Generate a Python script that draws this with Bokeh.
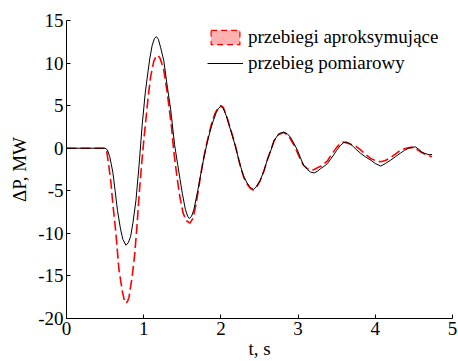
from bokeh.plotting import figure
from bokeh.models import FixedTicker, Legend, LegendItem, Range1d
from bokeh.embed import file_html
from bokeh.resources import INLINE

# ---- data ----
t_black = [0.0, 0.5, 0.53, 0.56, 0.6, 0.63, 0.66, 0.7, 0.73, 0.77, 0.8, 0.83, 0.86, 0.9,
           0.94, 0.98, 1.02, 1.05, 1.08, 1.11, 1.14, 1.165, 1.19, 1.22, 1.26, 1.3, 1.35,
           1.4, 1.44, 1.47, 1.5, 1.54, 1.57, 1.59, 1.62, 1.65, 1.7, 1.74, 1.78, 1.82, 1.86,
           1.9, 1.94, 1.97, 2.0, 2.03, 2.07, 2.1, 2.15, 2.19, 2.23, 2.26, 2.3, 2.34, 2.38,
           2.42, 2.46, 2.51, 2.56, 2.6, 2.65, 2.69, 2.75, 2.815, 2.86, 2.9, 2.95, 2.99,
           3.03, 3.07, 3.12, 3.16, 3.21, 3.25, 3.29, 3.34, 3.38, 3.42, 3.46, 3.5, 3.55,
           3.59, 3.62, 3.67, 3.72, 3.76, 3.81, 3.87, 3.94, 4.0, 4.07, 4.13, 4.2, 4.26,
           4.33, 4.38, 4.43, 4.48, 4.52, 4.56, 4.6, 4.64, 4.67, 4.7, 4.735]
p_black = [0.0, 0.0, -0.2, -1.0, -2.8, -5.0, -7.3, -9.5, -10.7, -11.4, -11.1, -10.4, -8.8, -6.1,
           -2.0, 2.7, 6.5, 8.6, 10.6, 12.1, 12.9, 13.1, 12.8, 11.8, 10.3, 7.6, 4.5,
           0.4, -1.9, -3.6, -5.3, -7.2, -8.0, -8.25, -8.0, -7.2, -5.0, -3.0, -1.1, 0.55, 2.0,
           3.2, 4.2, 4.7, 4.9, 4.7, 3.8, 2.9, 1.4, 0.15, -1.3, -2.3, -3.4, -4.1, -4.6,
           -4.85, -4.5, -3.75, -2.6, -1.4, -0.2, 0.9, 1.7, 1.9, 1.7, 1.3, 0.5, -0.2,
           -1.1, -2.0, -2.5, -2.8, -2.9, -2.7, -2.4, -2.1, -1.8, -1.3, -0.8, -0.25, 0.35,
           0.65, 0.74, 0.55, 0.15, -0.2, -0.6, -1.0, -1.4, -1.8, -2.1, -1.8, -1.4, -1.0,
           -0.55, -0.25, 0.0, 0.12, 0.15, -0.1, -0.43, -0.6, -0.7, -0.75, -0.74]

t_red = [0.0, 0.5, 0.52, 0.55, 0.575, 0.6, 0.64, 0.68, 0.725, 0.75, 0.77, 0.79, 0.81, 0.85,
         0.88, 0.91, 0.94, 0.97, 1.0, 1.03, 1.06, 1.09, 1.13, 1.16, 1.185, 1.21, 1.24, 1.26,
         1.3, 1.33, 1.36, 1.39, 1.43, 1.47, 1.51, 1.55, 1.6, 1.64, 1.68, 1.72, 1.76, 1.8,
         1.84, 1.88, 1.92, 1.96, 2.0, 2.03, 2.07, 2.1, 2.15, 2.19, 2.23, 2.26, 2.3, 2.34,
         2.38, 2.42, 2.46, 2.51, 2.56, 2.6, 2.65, 2.69, 2.75, 2.81, 2.86, 2.9, 2.95, 2.99,
         3.03, 3.07, 3.12, 3.17, 3.21, 3.25, 3.3, 3.34, 3.38, 3.42, 3.46, 3.5, 3.54, 3.58,
         3.62, 3.67, 3.72, 3.76, 3.81, 3.87, 3.94, 4.0, 4.07, 4.13, 4.2, 4.26, 4.31, 4.35,
         4.4, 4.46, 4.5, 4.55, 4.6, 4.64, 4.68, 4.735]
p_red = [0.0, 0.0, -0.3, -2.2, -4.0, -6.5, -10.0, -14.3, -16.9, -17.9, -18.2, -18.0, -17.5, -15.1,
         -12.8, -9.5, -5.6, -2.2, 0.8, 3.5, 6.2, 8.4, 10.2, 10.8, 10.9, 10.6, 9.8, 9.2,
         6.8, 4.7, 2.5, -0.4, -3.3, -5.8, -7.6, -8.5, -8.8, -8.2, -6.5, -4.2, -2.0, -0.1,
         1.5, 2.9, 4.0, 4.7, 5.0, 4.8, 3.9, 3.0, 1.5, 0.2, -1.3, -2.4, -3.5, -4.2,
         -4.7, -4.9, -4.6, -3.8, -2.6, -1.4, -0.1, 0.9, 1.6, 1.85, 1.6, 1.1, 0.3, -0.5,
         -1.3, -2.0, -2.4, -2.6, -2.5, -2.3, -2.1, -1.8, -1.5, -0.9, -0.4, 0.1, 0.5, 0.72,
         0.65, 0.5, 0.35, 0.15, -0.2, -0.7, -1.2, -1.45, -1.6, -1.45, -1.1, -0.7, -0.35, -0.15,
         0.0, 0.1, 0.05, -0.2, -0.5, -0.7, -0.85, -1.0]

x_ticks = [0, 1, 2, 3, 4, 5]
y_ticks = [-20, -15, -10, -5, 0, 5, 10, 15]
x_tick_labels = ["0", "1", "2", "3", "4", "5"]
y_tick_labels = ["-20", "-15", "-10", "-5", "0", "5", "10", "15"]
series_names = ["przebiegi aproksymujące", "przebieg pomiarowy"]
x_title = "t, s"
y_title = "ΔP, MW"

FONT = "'Liberation Serif', serif"
FS = "19px"
NAN = float("nan")

p = figure(width=458, height=361, output_backend="svg", toolbar_location=None,
           x_range=Range1d(0, 5), y_range=Range1d(-20, 15),
           min_border_left=66, min_border_right=6, min_border_top=20, min_border_bottom=43)
p.xgrid.visible = False
p.ygrid.visible = False
p.outline_line_color = None
p.background_fill_color = "white"
p.border_fill_color = "white"

p.xaxis.ticker = FixedTicker(ticks=x_ticks)
p.xaxis.major_label_overrides = {t: l for t, l in zip(x_ticks, x_tick_labels)}
p.yaxis.ticker = FixedTicker(ticks=y_ticks)
p.yaxis.major_label_overrides = {t: l for t, l in zip(y_ticks, y_tick_labels)}
for axes in (p.xaxis, p.yaxis):
    axes.major_tick_in = 4
    axes.major_tick_out = 0
    axes.minor_tick_line_color = None
    axes.axis_line_color = "black"
    axes.major_tick_line_color = "black"
    axes.major_label_text_font = FONT
    axes.major_label_text_font_size = FS
    axes.major_label_text_color = "black"
    axes.major_label_standoff = 3
    axes.axis_label_text_font = FONT
    axes.axis_label_text_font_size = FS
    axes.axis_label_text_font_style = "normal"
    axes.axis_label_text_color = "black"
p.xaxis.axis_label = x_title
p.yaxis.axis_label = y_title
p.xaxis.axis_label_standoff = 0
p.yaxis.axis_label_standoff = 5

red = p.line(t_red, p_red, line_color="#ff0000", line_width=1.6, line_dash="10 4")
black = p.line(t_black, p_black, line_color="black", line_width=1)
# legend swatch only (NaN row -> nothing drawn in the plot area)
swatch = p.quad(left=[NAN], right=[NAN], top=[NAN], bottom=[NAN], fill_color="#ffb0b0",
                line_color="#ff0000", line_width=1.2, line_dash="6 4")

legend = Legend(items=[LegendItem(label=series_names[0], renderers=[swatch]),
                       LegendItem(label=series_names[1], renderers=[black])],
                location=(141, 244), border_line_color=None, background_fill_alpha=0,
                padding=0, margin=0, spacing=4, glyph_width=36, glyph_height=18,
                label_height=20, label_standoff=5, label_text_font=FONT,
                label_text_font_size=FS, label_text_color="black")
p.add_layout(legend)

open("out.html", "w").write(file_html(p, INLINE))
